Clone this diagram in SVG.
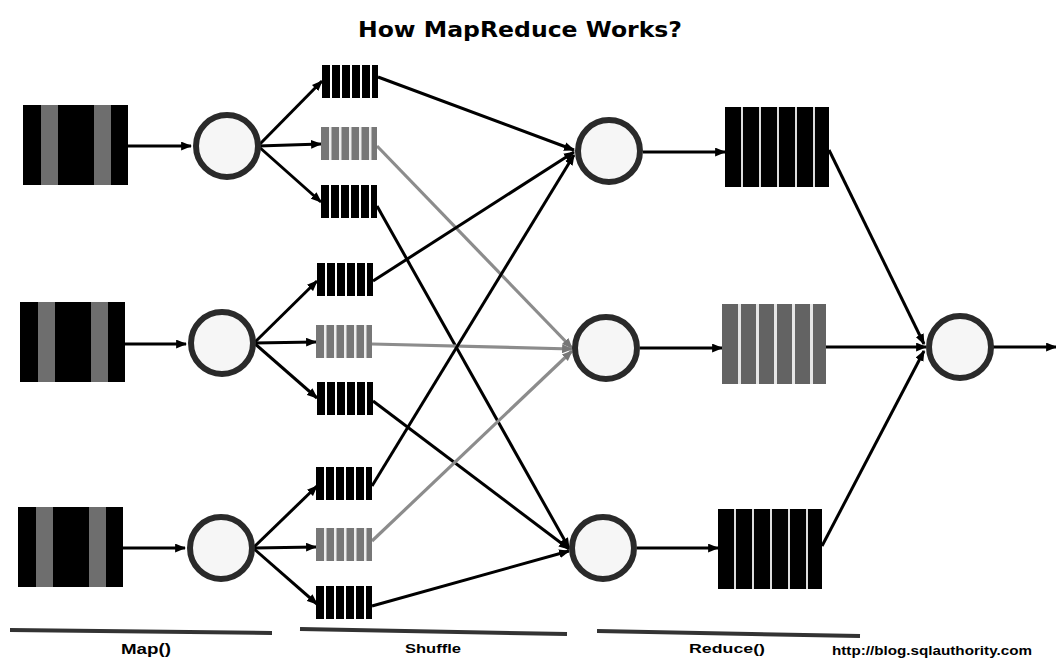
<svg xmlns="http://www.w3.org/2000/svg" width="1056" height="660" viewBox="0 0 1056 660">
<defs>
<style>
.node circle{fill:#f6f6f6;stroke:#2a2a2a;stroke-width:6}
.k{stroke:#000;stroke-width:3;fill:none}
.g{stroke:#8c8c8c;stroke-width:3.2;fill:none}
.lbl{font-family:"Liberation Sans",Arial,sans-serif;font-weight:bold;fill:#000}
.base{stroke:#333;stroke-width:4;stroke-linecap:butt}
</style>
<marker id="ah" viewBox="0 0 10 8" refX="9" refY="4" markerWidth="11" markerHeight="9" markerUnits="userSpaceOnUse" orient="auto">
<path d="M0,0 L10,4 L0,8 z" fill="#000"/>
</marker>
<marker id="ahg" viewBox="0 0 10 8" refX="9" refY="4" markerWidth="11" markerHeight="9" markerUnits="userSpaceOnUse" orient="auto">
<path d="M0,0 L10,4 L0,8 z" fill="#777"/>
</marker>
<g id="inblk">
<rect x="0" y="0" width="105" height="80" fill="#000"/>
<rect x="18" y="0" width="17" height="80" fill="#6e6e6e"/>
<rect x="71" y="0" width="17" height="80" fill="#6e6e6e"/>
</g>
<g id="qb">
<rect x="0" y="0" width="56" height="33" fill="#000"/>
<rect x="8" y="0" width="2" height="33" fill="#fff"/>
<rect x="18" y="0" width="2" height="33" fill="#fff"/>
<rect x="28" y="0" width="2" height="33" fill="#fff"/>
<rect x="38" y="0" width="2" height="33" fill="#fff"/>
<rect x="48" y="0" width="2" height="33" fill="#fff"/>
</g>
<g id="qg">
<rect x="0" y="0" width="56" height="33" fill="#777"/>
<rect x="8" y="0" width="2.5" height="33" fill="#eee"/>
<rect x="18" y="0" width="2.5" height="33" fill="#eee"/>
<rect x="28" y="0" width="2.5" height="33" fill="#eee"/>
<rect x="38" y="0" width="2.5" height="33" fill="#eee"/>
<rect x="48" y="0" width="2.5" height="33" fill="#eee"/>
</g>
<g id="rb">
<rect x="0" y="0" width="104" height="80" fill="#000"/>
<rect x="16" y="0" width="2" height="80" fill="#ddd"/>
<rect x="34" y="0" width="2" height="80" fill="#ddd"/>
<rect x="52" y="0" width="2" height="80" fill="#ddd"/>
<rect x="70" y="0" width="2" height="80" fill="#ddd"/>
<rect x="88" y="0" width="2" height="80" fill="#ddd"/>
</g>
<g id="rg">
<rect x="0" y="0" width="104" height="80" fill="#636363"/>
<rect x="16" y="0" width="3" height="80" fill="#e6e6e6"/>
<rect x="34" y="0" width="3" height="80" fill="#e6e6e6"/>
<rect x="52" y="0" width="3" height="80" fill="#e6e6e6"/>
<rect x="70" y="0" width="3" height="80" fill="#e6e6e6"/>
<rect x="88" y="0" width="3" height="80" fill="#e6e6e6"/>
</g>
</defs>
<rect width="1056" height="660" fill="#fff"/>
<text x="520" y="37" text-anchor="middle" font-family="'DejaVu Sans',Verdana,sans-serif" font-weight="bold" font-size="21" textLength="324" lengthAdjust="spacingAndGlyphs">How MapReduce Works?</text>

<g id="connectors">
<line class="k" x1="128" y1="146" x2="191" y2="146" marker-end="url(#ah)"/>
<line class="k" x1="124" y1="344" x2="186" y2="344" marker-end="url(#ah)"/>
<line class="k" x1="123" y1="548" x2="185" y2="548" marker-end="url(#ah)"/>
<line class="k" x1="258" y1="146" x2="322" y2="81" marker-end="url(#ah)"/>
<line class="k" x1="258" y1="146" x2="321" y2="144" marker-end="url(#ah)"/>
<line class="k" x1="258" y1="146" x2="321" y2="202" marker-end="url(#ah)"/>
<line class="k" x1="254" y1="343" x2="317" y2="281" marker-end="url(#ah)"/>
<line class="k" x1="254" y1="343" x2="316" y2="342" marker-end="url(#ah)"/>
<line class="k" x1="254" y1="343" x2="317" y2="398" marker-end="url(#ah)"/>
<line class="k" x1="253" y1="548" x2="317" y2="486" marker-end="url(#ah)"/>
<line class="k" x1="253" y1="548" x2="316" y2="547" marker-end="url(#ah)"/>
<line class="k" x1="253" y1="548" x2="317" y2="604" marker-end="url(#ah)"/>
<line class="k" x1="378" y1="77" x2="574" y2="150" marker-end="url(#ah)"/>
<line class="g" x1="377" y1="146" x2="572" y2="348" marker-end="url(#ahg)"/>
<line class="k" x1="377" y1="206" x2="569" y2="548" marker-end="url(#ah)"/>
<line class="k" x1="373" y1="281" x2="574" y2="152" marker-end="url(#ah)"/>
<line class="g" x1="372" y1="344" x2="572" y2="349" marker-end="url(#ahg)"/>
<line class="k" x1="373" y1="401" x2="569" y2="549" marker-end="url(#ah)"/>
<line class="k" x1="372" y1="486" x2="574" y2="155" marker-end="url(#ah)"/>
<line class="g" x1="372" y1="541" x2="572" y2="351" marker-end="url(#ahg)"/>
<line class="k" x1="372" y1="606" x2="569" y2="551" marker-end="url(#ah)"/>
<line class="k" x1="643" y1="152" x2="725" y2="152" marker-end="url(#ah)"/>
<line class="k" x1="640" y1="348" x2="722" y2="348" marker-end="url(#ah)"/>
<line class="k" x1="637" y1="548" x2="718" y2="548" marker-end="url(#ah)"/>
<line class="k" x1="829" y1="150" x2="924" y2="344" marker-end="url(#ah)"/>
<line class="k" x1="826" y1="347" x2="926" y2="347" marker-end="url(#ah)"/>
<line class="k" x1="822" y1="546" x2="924" y2="351" marker-end="url(#ah)"/>
<line class="k" x1="993" y1="347" x2="1056" y2="347" marker-end="url(#ah)"/>
</g>

<g id="input1"><use href="#inblk" x="23" y="105"/></g>
<g id="input2"><use href="#inblk" x="20" y="302"/></g>
<g id="input3"><use href="#inblk" x="18" y="507"/></g>

<g id="map1" class="node"><circle cx="227" cy="146" r="31"/></g>
<g id="map2" class="node"><circle cx="222" cy="343" r="31"/></g>
<g id="map3" class="node"><circle cx="221" cy="548" r="31"/></g>

<g id="q1"><use href="#qb" x="322" y="65"/></g>
<g id="q2"><use href="#qg" x="321" y="127"/></g>
<g id="q3"><use href="#qb" x="321" y="185"/></g>
<g id="q4"><use href="#qb" x="317" y="263"/></g>
<g id="q5"><use href="#qg" x="316" y="325"/></g>
<g id="q6"><use href="#qb" x="317" y="382"/></g>
<g id="q7"><use href="#qb" x="316" y="467"/></g>
<g id="q8"><use href="#qg" x="316" y="528"/></g>
<g id="q9"><use href="#qb" x="316" y="586"/></g>

<g id="reduce1" class="node"><circle cx="609" cy="151" r="31"/></g>
<g id="reduce2" class="node"><circle cx="606" cy="348" r="31"/></g>
<g id="reduce3" class="node"><circle cx="603" cy="548" r="31"/></g>

<g id="out1"><use href="#rb" x="725" y="107"/></g>
<g id="out2"><use href="#rg" x="722" y="304"/></g>
<g id="out3"><use href="#rb" x="718" y="509"/></g>

<g id="final" class="node"><circle cx="960" cy="347" r="31"/></g>

<g id="footer">
<line class="base" x1="10" y1="630" x2="272" y2="633"/>
<line class="base" x1="300" y1="629" x2="567" y2="634"/>
<line class="base" x1="597" y1="631" x2="860" y2="636"/>
<text class="lbl" x="146" y="654" text-anchor="middle" font-size="15" textLength="50" lengthAdjust="spacingAndGlyphs">Map()</text>
<text class="lbl" x="433" y="653" text-anchor="middle" font-size="12" textLength="56" lengthAdjust="spacingAndGlyphs">Shuffle</text>
<text class="lbl" x="727" y="653" text-anchor="middle" font-size="13" textLength="76" lengthAdjust="spacingAndGlyphs">Reduce()</text>
<text class="lbl" x="932" y="655" text-anchor="middle" font-size="12" textLength="200" lengthAdjust="spacingAndGlyphs">http://blog.sqlauthority.com</text>
</g>
</svg>
